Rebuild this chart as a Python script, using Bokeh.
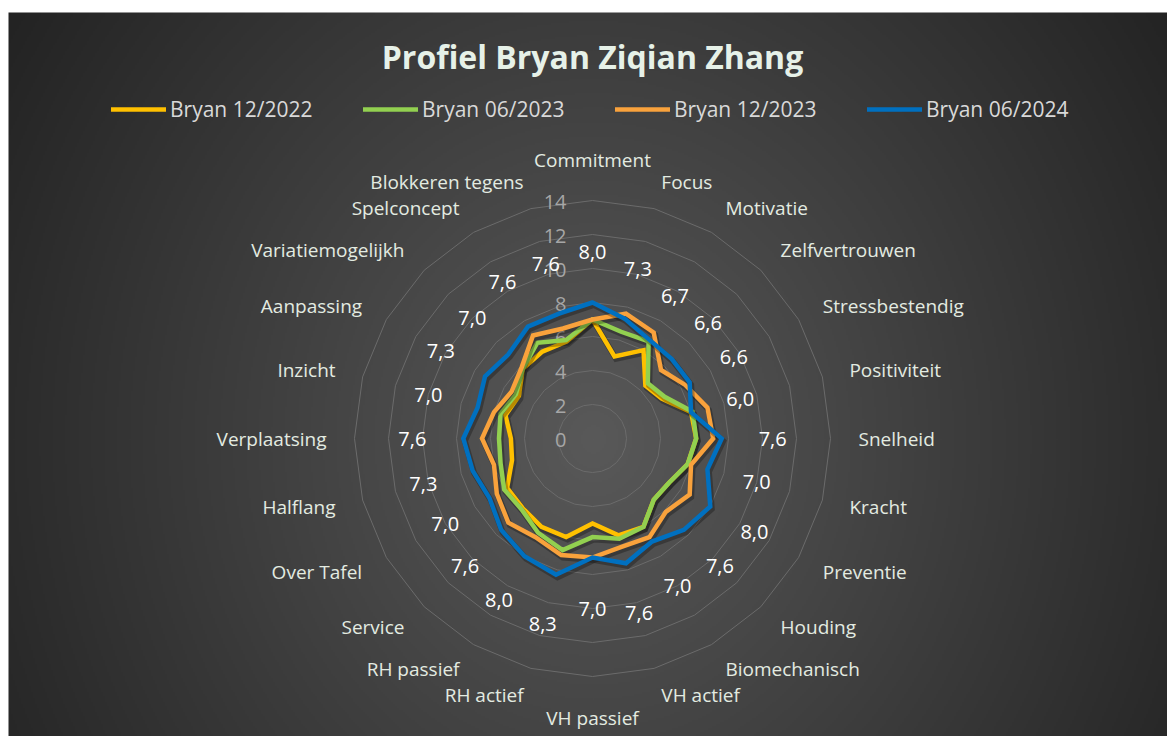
import numpy as np
from bokeh.plotting import figure
from bokeh.models import Range1d, Legend, LegendItem, LinearColorMapper
from bokeh.embed import file_html
from bokeh.resources import INLINE
from bokeh.core.properties import value

# ---------------- data ----------------
title_text = "Profiel Bryan Ziqian Zhang"
categories = ["Commitment", "Focus", "Motivatie", "Zelfvertrouwen", "Stressbestendig",
              "Positiviteit", "Snelheid", "Kracht", "Preventie", "Houding", "Biomechanisch",
              "VH actief", "VH passief", "RH actief", "RH passief", "Service", "Over Tafel",
              "Halflang", "Verplaatsing", "Inzicht", "Aanpassing", "Variatiemogelijkh",
              "Spelconcept", "Blokkeren tegens"]
series_names = ["Bryan 12/2022", "Bryan 06/2023", "Bryan 12/2023", "Bryan 06/2024"]
bryan_12_2022 = [7.0, 5.0, 6.0, 4.4, 4.7, 6.0, 6.1, 5.8, 5.2, 5.1, 6.0, 5.9,
                 5.0, 6.0, 6.0, 5.8, 5.8, 4.9, 4.8, 5.3, 5.0, 5.8, 5.9, 5.9]
bryan_06_2023 = [7.0, 6.5, 6.6, 4.6, 4.9, 6.1, 6.1, 5.8, 5.2, 5.1, 6.0, 6.1,
                 5.8, 6.8, 6.4, 5.9, 6.0, 5.6, 5.5, 5.6, 5.2, 5.8, 6.5, 6.0]
bryan_12_2023 = [7.0, 7.6, 7.2, 5.7, 6.3, 7.0, 7.1, 6.0, 6.6, 6.1, 6.7, 6.6,
                 7.0, 7.1, 6.7, 7.0, 6.5, 6.0, 6.5, 6.0, 5.5, 5.9, 7.0, 6.7]
bryan_06_2024 = [8.0, 7.3, 6.7, 6.6, 6.6, 6.0, 7.6, 7.0, 8.0, 7.6, 7.0, 7.6,
                 7.0, 8.3, 8.0, 7.6, 7.0, 7.3, 7.6, 7.0, 7.3, 7.0, 7.6, 7.6]
tick_values = [0, 2, 4, 6, 8, 10, 12, 14]
series_values = [bryan_12_2022, bryan_06_2023, bryan_12_2023, bryan_06_2024]
series_colors = ["#FFC000", "#92D050", "#F9A23C", "#0070C0"]

# ---------------- layout ----------------
FONT = "Open Sans"
W, H = 1167, 736
CX, CY = 592, 438          # radar centre in figure pixels (from top-left)
S = 17.0                   # pixels per value unit
LEFT_GAP, TOP_GAP = 8, 12  # white strip around the chart area
LABEL_OFFSET = 3.0         # data labels sit this many units outside the point value
CAT_R = 266 / S

p = figure(width=W, height=H,
           x_range=Range1d(-CX / S, (W - CX) / S),
           y_range=Range1d(-(H - CY) / S, CY / S),
           output_backend="svg", toolbar_location=None,
           x_axis_type=None, y_axis_type=None, min_border=0,
           border_fill_color="white", background_fill_color="white",
           outline_line_color=None)

# background gradient (dark edges, lighter centre)
step = 2
gw, gh = (W - LEFT_GAP) // step + 1, (H - TOP_GAP) // step + 1
yy, xx = np.mgrid[0:gh, 0:gw]
px = xx * step + LEFT_GAP
py = yy * step + TOP_GAP
d = np.sqrt(((px - CX) / 580.0) ** 2 + ((py - CY) / 650.0) ** 2)
g = np.clip(89 - 45 * d, 34, 89).astype(np.uint8)
g = np.ascontiguousarray(np.flipud(g))
grays = ["#%02x%02x%02x" % (i, i, i) for i in range(256)]
mapper = LinearColorMapper(palette=grays, low=0, high=255)
p.image(image=[g], x=(LEFT_GAP - CX) / S, y=(CY - TOP_GAP) / S - gh * step / S,
        dw=gw * step / S, dh=gh * step / S, color_mapper=mapper)

n = len(categories)
theta = np.arange(n) * 2 * np.pi / n
sin_t, cos_t = np.sin(theta), np.cos(theta)

# grid polygons
for t in tick_values[1:]:
    gx = list(t * sin_t) + [t * sin_t[0]]
    gy = list(t * cos_t) + [t * cos_t[0]]
    p.line(gx, gy, line_color="#6b6b6b", line_width=1)

# tick labels
p.text(x=[-26 / S] * len(tick_values), y=[t - 1.5 / S for t in tick_values],
       text=[str(t) for t in tick_values], text_align="right", text_baseline="middle",
       text_font=value(FONT), text_font_size="20px", text_color="#a6a6a6")

# series
renderers = []
for vals, col in zip(series_values, series_colors):
    v = np.array(vals)
    xs = list(v * sin_t) + [v[0] * sin_t[0]]
    ys = list(v * cos_t) + [v[0] * cos_t[0]]
    p.line([x + 1.5 / S for x in xs], [y - 2.5 / S for y in ys], line_color="black",
           line_alpha=0.28, line_width=6, line_join="miter")
    r = p.line(xs, ys, line_color=col, line_width=4.5, line_join="miter", line_cap="round")
    renderers.append(r)

# data labels (last series)
blue = np.array(bryan_06_2024)
lab_r = blue + LABEL_OFFSET
p.text(x=list(lab_r * sin_t), y=list(lab_r * cos_t),
       text=[("%.1f" % v).replace(".", ",") for v in blue],
       text_align="center", text_baseline="middle",
       text_font=value(FONT), text_font_size="20px", text_color="#ffffff")

# category labels
cat_color = "#e3ebe1"
groups = {
    "right": [i for i in range(n) if sin_t[i] > 0.01],
    "left": [i for i in range(n) if sin_t[i] < -0.01],
    "top": [i for i in range(n) if abs(sin_t[i]) <= 0.01 and cos_t[i] > 0],
    "bottom": [i for i in range(n) if abs(sin_t[i]) <= 0.01 and cos_t[i] < 0],
}
styles = {"right": ("left", "middle"), "left": ("right", "middle"),
          "top": ("center", "bottom"), "bottom": ("center", "top")}
for key, idx in groups.items():
    al, bl = styles[key]
    p.text(x=[CAT_R * sin_t[i] for i in idx], y=[CAT_R * cos_t[i] for i in idx],
           text=[categories[i] for i in idx], text_align=al, text_baseline=bl,
           text_font=value(FONT), text_font_size="19px", text_color=cat_color)

# title
p.text(x=[0], y=[(CY - 56) / S], text=[title_text], text_align="center",
       text_baseline="middle", text_font=value(FONT), text_font_size="32px",
       text_font_style="bold", text_color="#e6f1e8")

# legend
legend = Legend(items=[LegendItem(label=nm, renderers=[r]) for nm, r in zip(series_names, renderers)],
                orientation="horizontal", location=(111, H - 113 - 10),
                glyph_width=55, glyph_height=20, label_height=20, label_width=153,
                label_standoff=4, spacing=40, padding=0, margin=0,
                border_line_color=None, background_fill_alpha=0,
                label_text_font=FONT, label_text_font_size="21px",
                label_text_color="#d9d9d9")
p.add_layout(legend)

open("out.html", "w").write(file_html(p, INLINE))
